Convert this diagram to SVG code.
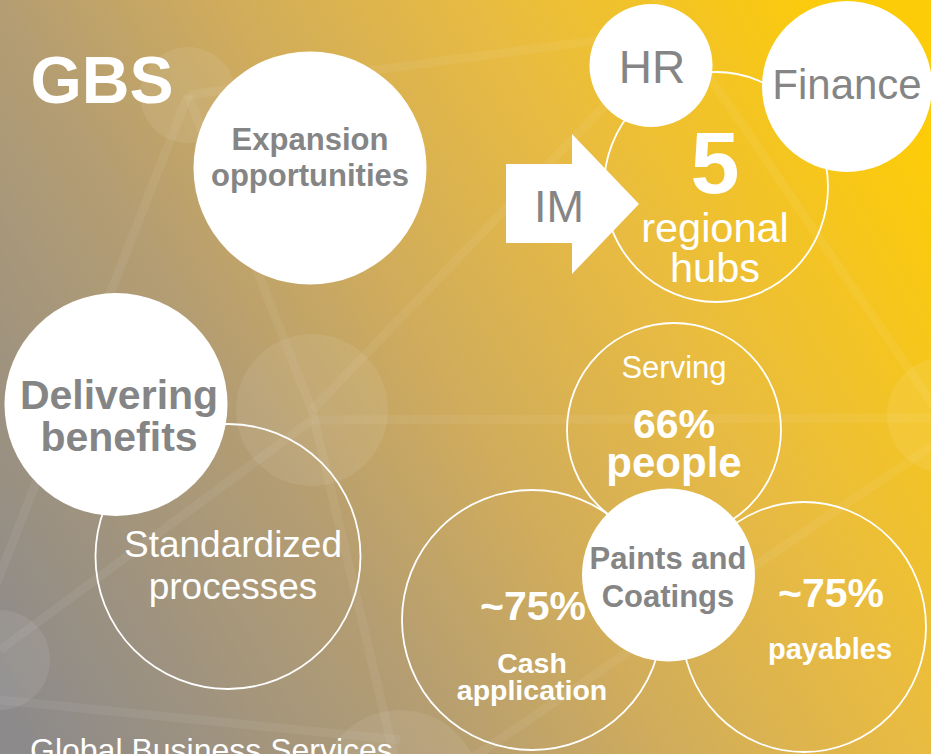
<svg xmlns="http://www.w3.org/2000/svg" width="931" height="754" viewBox="0 0 931 754">
  <defs>
    <linearGradient id="bg" gradientUnits="userSpaceOnUse" x1="0" y1="700" x2="931" y2="150">
      <stop offset="0" stop-color="#8c8a8b"/>
      <stop offset="0.33" stop-color="#b49d72"/>
      <stop offset="0.52" stop-color="#d2ad5a"/>
      <stop offset="0.72" stop-color="#e9bc40"/>
      <stop offset="1" stop-color="#fdcc08"/>
    </linearGradient>
    <style>
      text { font-family: "Liberation Sans", Arial, sans-serif; text-anchor: middle; }
      .fill { fill: #ffffff; }
      .ring { fill: none; stroke: #ffffff; stroke-width: 1.8; }
      .gray { fill: #858585; }
      .white { fill: #ffffff; }
      .b { font-weight: bold; }
      .net line { stroke: #ffffff; stroke-opacity: 0.06; stroke-width: 9; }
      .net circle { fill: #ffffff; fill-opacity: 0.08; }
    </style>
  </defs>

  <rect x="0" y="0" width="931" height="754" fill="url(#bg)"/>

  <g id="background" class="net">
    <line x1="188" y1="95" x2="600" y2="40"/>
    <line x1="188" y1="95" x2="-10" y2="600"/>
    <line x1="188" y1="95" x2="312" y2="410"/>
    <line x1="312" y1="410" x2="620" y2="90"/>
    <line x1="312" y1="420" x2="940" y2="418"/>
    <line x1="312" y1="410" x2="400" y2="780"/>
    <line x1="0" y1="650" x2="312" y2="420"/>
    <line x1="0" y1="700" x2="400" y2="740"/>
    <line x1="650" y1="-10" x2="940" y2="415"/>
    <line x1="940" y1="440" x2="440" y2="780"/>
    <circle cx="188" cy="95" r="48"/>
    <circle cx="312" cy="410" r="76"/>
    <circle cx="0" cy="660" r="50"/>
    <circle cx="400" cy="790" r="80"/>
    <circle cx="945" cy="415" r="58"/>
  </g>

  <g id="title">
    <text class="white b" x="102" y="103" font-size="66">GBS</text>
  </g>

  <g id="expansion">
    <circle class="fill" cx="310" cy="168" r="116.5"/>
    <text class="gray b" x="310" y="150" font-size="31">Expansion</text>
    <text class="gray b" x="310" y="186" font-size="31">opportunities</text>
  </g>

  <g id="standardized">
    <circle class="ring" cx="228" cy="556.5" r="132.5"/>
    <text class="white" x="233" y="557" font-size="37">Standardized</text>
    <text class="white" x="233" y="599" font-size="37">processes</text>
  </g>

  <g id="delivering">
    <circle class="fill" cx="116" cy="404.5" r="111.5"/>
    <text class="gray b" x="119" y="409" font-size="41">Delivering</text>
    <text class="gray b" x="119" y="451" font-size="41">benefits</text>
  </g>

  <g id="footer">
    <text class="white" x="30" y="761" font-size="32" style="text-anchor:start">Global Business Services</text>
  </g>

  <g id="hubs">
    <ellipse class="ring" cx="716" cy="187" rx="112" ry="115"/>
    <text class="white b" x="715" y="193" font-size="88">5</text>
    <text class="white" x="715" y="242" font-size="41.5">regional</text>
    <text class="white" x="715" y="282" font-size="41.5">hubs</text>
  </g>

  <g id="hr">
    <circle class="fill" cx="651" cy="65.5" r="61.5"/>
    <text class="gray" x="652" y="83" font-size="46">HR</text>
  </g>

  <g id="finance">
    <ellipse class="fill" cx="847" cy="86.5" rx="85" ry="85.5"/>
    <text class="gray" x="847" y="99" font-size="42">Finance</text>
  </g>

  <g id="im">
    <polygon class="fill" points="506,164 572,164 572,134 639,204 572,274 572,243 506,243"/>
    <text class="gray" x="559" y="222" font-size="45">IM</text>
  </g>

  <g id="serving">
    <circle class="ring" cx="674" cy="430" r="107"/>
    <text class="white" x="674" y="378" font-size="31">Serving</text>
    <text class="white b" x="674" y="438" font-size="41">66%</text>
    <text class="white b" x="674" y="477" font-size="42">people</text>
  </g>

  <g id="cash">
    <circle class="ring" cx="532" cy="620" r="130"/>
    <text class="white b" x="533" y="620" font-size="41">~75%</text>
    <text class="white b" x="532" y="673" font-size="28.5">Cash</text>
    <text class="white b" x="532" y="700" font-size="28.5">application</text>
  </g>

  <g id="payables">
    <ellipse class="ring" cx="804" cy="627" rx="122" ry="125"/>
    <text class="white b" x="831" y="607" font-size="41">~75%</text>
    <text class="white b" x="830" y="659" font-size="29">payables</text>
  </g>

  <g id="paints">
    <circle class="fill" cx="668.5" cy="575" r="86.5"/>
    <text class="gray b" x="668" y="569" font-size="31">Paints and</text>
    <text class="gray b" x="668" y="607" font-size="31">Coatings</text>
  </g>
</svg>
